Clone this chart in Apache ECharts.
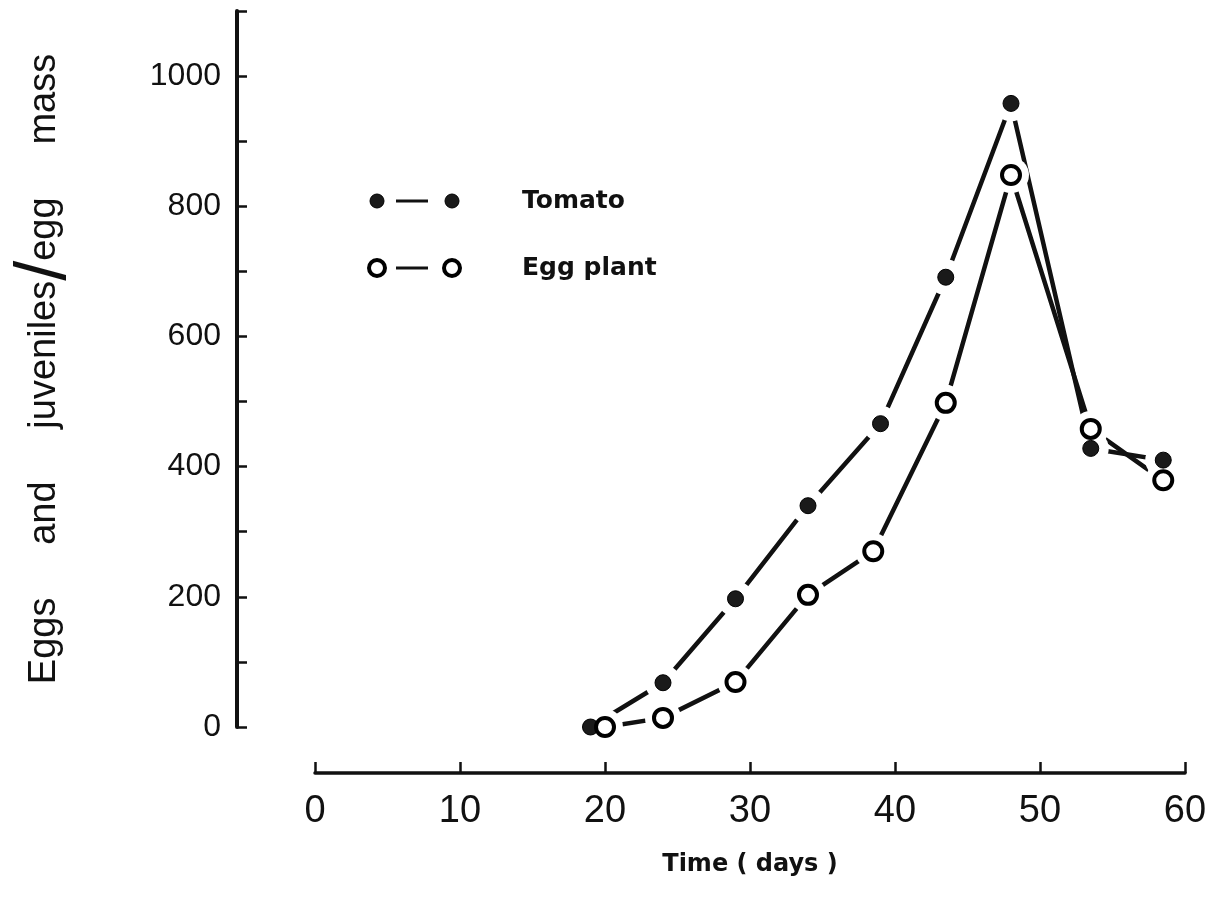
<!DOCTYPE html>
<html>
<head>
<meta charset="utf-8">
<title>Eggs and juveniles per egg mass</title>
<script src="https://cdn.jsdelivr.net/npm/echarts@6/dist/echarts.min.js"></script>
<style>
html,body{margin:0;padding:0;background:#fff;}
#stats_main{width:1231px;height:909px;}
</style>
</head>
<body>
<div id="stats_main"></div>
<script>
// data
var tomato_days = [19, 24, 29, 34, 39, 43.5, 48, 53.5, 58.5];
var tomato_eggs = [0, 68, 197, 340, 466, 691, 958, 428, 410];
var eggplant_days = [20, 24, 29, 34, 38.5, 43.5, 48, 53.5, 58.5];
var eggplant_eggs = [0, 14, 69, 203, 270, 498, 848, 458, 379];
var x_labels = [0, 10, 20, 30, 40, 50, 60];
var y_labels = [0, 200, 400, 600, 800, 1000];
var legend_names = ['Tomato', 'Egg plant'];

var ink = '#111';

function pairs(xs, ys){
	var out = [];
	for(var i=0;i<xs.length;i++){
		out[i] = [xs[i], ys[i]];
	}
	return out;
}

// line with white halos at the points, so the line stops short of each marker
function lineSeries(name, data){
	return {
		name:name,
		type:'line',
		data:data,
		z:2,
		symbol:'circle',
		symbolSize:36,
		showAllSymbol:true,
		itemStyle:{color:'#fff', borderWidth:0, opacity:1},
		lineStyle:{color:ink, width:4.5},
		silent:true
	};
}

var tomatoMarker = {color:'#1a1a1a', borderColor:'#000', borderWidth:1, opacity:1};
var eggplantMarker = {color:'#fff', borderColor:'#000', borderWidth:4, opacity:1};

// legend drawn by hand: marker - dash - marker  name
function legendRow(y, marker, size, label){
	return {
		type:'group',
		children:[
			{type:'circle', shape:{cx:377, cy:y, r:size/2}, style:{fill:marker.color, stroke:marker.borderColor, lineWidth:marker.borderWidth}},
			{type:'line', shape:{x1:396, y1:y, x2:428, y2:y}, style:{stroke:ink, lineWidth:3}},
			{type:'circle', shape:{cx:452, cy:y, r:size/2}, style:{fill:marker.color, stroke:marker.borderColor, lineWidth:marker.borderWidth}},
			{type:'text', x:522, y:y, style:{text:label, fill:ink, font:'bold 25px "DejaVu Sans"', textVerticalAlign:'middle'}}
		]
	};
}

var myChart = echarts.init(document.getElementById('stats_main'));

function setOption(){
	var options = {
		backgroundColor:'#fff',
		animation:false,
		grid:{left:315, right:46, top:11, bottom:182, containLabel:false, outerBoundsMode:'none'},
		xAxis:{
			type:'value',
			min:0, max:60, interval:10,
			offset:46,
			name:'Time ( days )',
			nameLocation:'middle',
			nameGap:80,
			nameTextStyle:{color:ink, fontSize:24, fontWeight:'bold', fontFamily:'DejaVu Sans'},
			axisLine:{onZero:false, lineStyle:{color:ink, width:3.5}},
			axisTick:{inside:true, length:11, lineStyle:{color:ink, width:2.5}},
			axisLabel:{
				color:ink, fontSize:38, fontFamily:'Liberation Sans', margin:20,
				formatter:function(v){ return x_labels.indexOf(v) >= 0 ? String(v) : ''; }
			},
			splitLine:{show:false}
		},
		yAxis:{
			type:'value',
			min:0, max:1100, interval:100,
			offset:78,
			name:'Eggs     and     juveniles{s|/}egg     mass',
			nameLocation:'middle',
			nameRotate:90,
			nameGap:156,
			nameTextStyle:{
				color:ink, fontSize:38, fontFamily:'Liberation Sans',
				rich:{s:{fontSize:72, fontFamily:'Liberation Sans', color:ink}}
			},
			axisLine:{show:true, onZero:false, lineStyle:{color:ink, width:4}},
			axisTick:{inside:true, length:10, lineStyle:{color:ink, width:2.5}},
			axisLabel:{
				color:ink, fontSize:32, fontFamily:'Liberation Sans', margin:16,
				formatter:function(v){ return y_labels.indexOf(v) >= 0 ? String(v) : ''; }
			},
			splitLine:{show:false}
		},
		series:[
			lineSeries(legend_names[0], pairs(tomato_days, tomato_eggs)),
			lineSeries(legend_names[1], pairs(eggplant_days, eggplant_eggs)),
			{
				name:legend_names[0]+' points',
				type:'scatter',
				data:pairs(tomato_days, tomato_eggs),
				z:5,
				symbol:'circle',
				symbolSize:16,
				itemStyle:tomatoMarker
			},
			{
				name:legend_names[1]+' points',
				type:'scatter',
				data:pairs(eggplant_days, eggplant_eggs),
				z:5,
				symbol:'circle',
				symbolSize:18,
				itemStyle:eggplantMarker
			}
		],
		graphic:[
			legendRow(201, tomatoMarker, 14, legend_names[0]),
			legendRow(268, eggplantMarker, 16, legend_names[1])
		]
	};
	myChart.setOption(options);
}

setOption();
</script>
</body>
</html>
